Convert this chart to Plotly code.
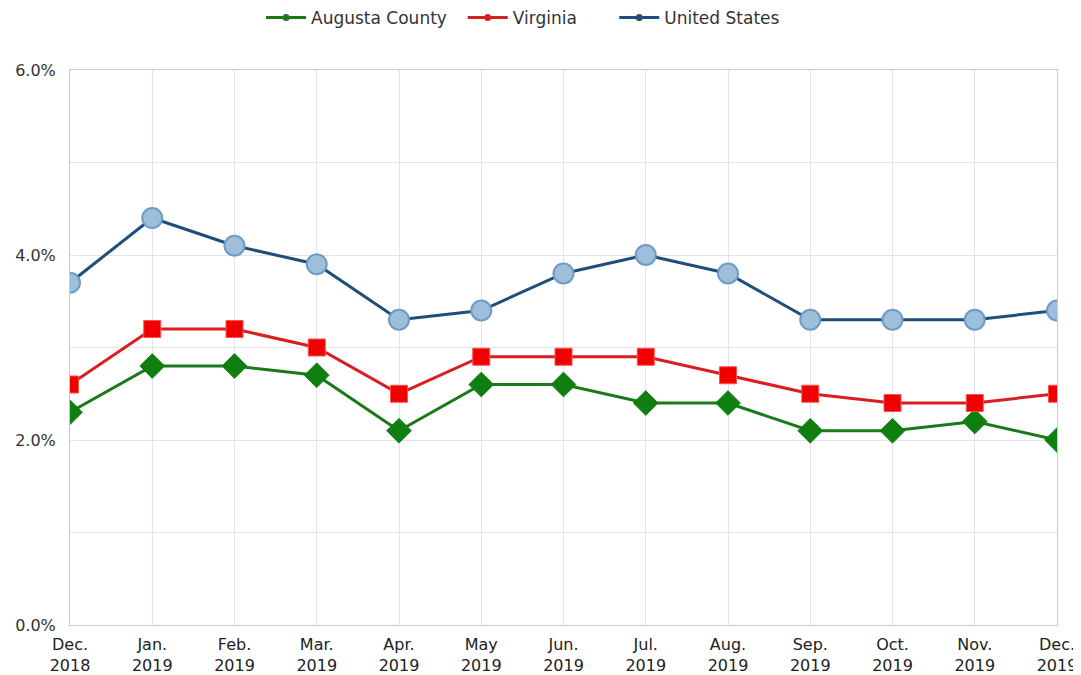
import plotly.graph_objects as go

months = ["Dec.<br>2018", "Jan.<br>2019", "Feb.<br>2019", "Mar.<br>2019", "Apr.<br>2019",
          "May<br>2019", "Jun.<br>2019", "Jul.<br>2019", "Aug.<br>2019", "Sep.<br>2019",
          "Oct.<br>2019", "Nov.<br>2019", "Dec.<br>2019"]
augusta = [2.3, 2.8, 2.8, 2.7, 2.1, 2.6, 2.6, 2.4, 2.4, 2.1, 2.1, 2.2, 2.0]
virginia = [2.6, 3.2, 3.2, 3.0, 2.5, 2.9, 2.9, 2.9, 2.7, 2.5, 2.4, 2.4, 2.5]
us = [3.7, 4.4, 4.1, 3.9, 3.3, 3.4, 3.8, 4.0, 3.8, 3.3, 3.3, 3.3, 3.4]

NB = "\u00a0"
series = [
    ("Augusta County", augusta, "#1a7a1a", "diamond", 19, "#0f800f", "#0f800f", 1, 2),
    ("Virginia", virginia, "#d81e1e", "square", 17, "#f00000", "#ff5050", 1, 6),
    ("United States", us, "#1f4e7a", "circle", 20, "#9dbfdc", "#6f9cc4", 2, 0),
]

x = list(range(len(months)))
fig = go.Figure()
for name, vals, lc, sym, sz, fc, mlc, mlw, pad in series:
    fig.add_trace(go.Scatter(x=x, y=vals, name=name, mode="lines+markers", showlegend=False,
                             line=dict(color=lc, width=3),
                             marker=dict(symbol=sym, size=sz, color=fc,
                                         line=dict(color=mlc, width=mlw))))
for name, vals, lc, sym, sz, fc, mlc, mlw, pad in series:
    fig.add_trace(go.Scatter(x=[None], y=[None], name=name + NB * pad, mode="lines+markers",
                             line=dict(color=lc, width=3),
                             marker=dict(symbol="circle", size=7, color=lc)))

fig.update_layout(
    width=1073, height=667,
    margin=dict(l=62, r=24, t=62, b=50, autoexpand=False),
    paper_bgcolor="white", plot_bgcolor="white",
    font=dict(family="DejaVu Sans, Verdana, sans-serif", size=16, color="#333333"),
    legend=dict(orientation="h", x=0.48, xref="container", xanchor="center",
                y=0.985, yref="container", yanchor="middle",
                font=dict(size=17, color="#333333"),
                itemwidth=40, tracegroupgap=0),
    showlegend=True,
)
fig.update_xaxes(tickvals=x, ticktext=months, range=[0, 12], showgrid=True,
                 gridcolor="#e3e3f0", zeroline=False, showline=True, linecolor="#c8c8d8",
                 mirror=True, ticks="", automargin=False, ticklabelstandoff=5,
                 tickfont=dict(size=16, color="#222222"))
fig.update_yaxes(range=[0, 6], tickvals=[0, 1, 2, 3, 4, 5, 6],
                 ticktext=["0.0%", "", "2.0%", "", "4.0%", "", "6.0%"],
                 showgrid=True, gridcolor="#e3e3f0", zeroline=False, showline=True,
                 linecolor="#c8c8d8", mirror=True, ticks="", automargin=False,
                 ticklabelstandoff=10,
                 tickfont=dict(size=16, color="#333333"))

fig.write_html("out.html")
